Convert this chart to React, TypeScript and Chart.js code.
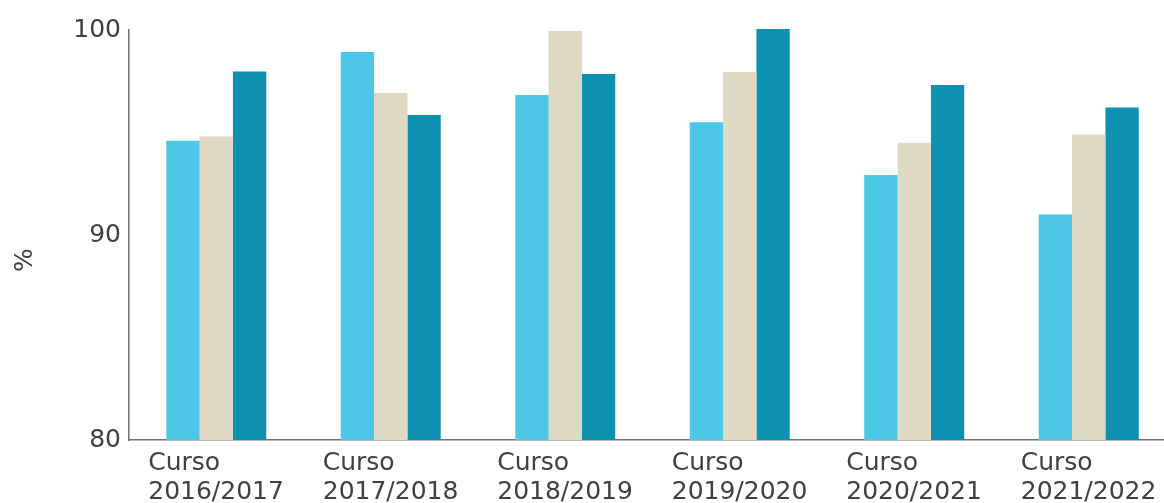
import React, { useEffect, useRef } from "react";
import { Chart, registerables } from "chart.js";

Chart.register(...registerables);

const categories: string[][] = [
  ["Curso", "2016/2017"],
  ["Curso", "2017/2018"],
  ["Curso", "2018/2019"],
  ["Curso", "2019/2020"],
  ["Curso", "2020/2021"],
  ["Curso", "2021/2022"],
];
const seriesA: number[] = [94.6, 98.93, 96.83, 95.5, 92.93, 91.0];
const seriesB: number[] = [94.8, 96.93, 99.95, 97.95, 94.5, 94.9];
const seriesC: number[] = [97.98, 95.85, 97.85, 100.05, 97.32, 96.22];
const yTicks: number[] = [80, 90, 100];
const yTitle = "%";

const FONT = "'DejaVu Sans', sans-serif";
const TEXT = "#404040";
const AXIS = "#707070";

const yTitlePlugin = {
  id: "yTitleText",
  afterDraw(chart: any) {
    const { ctx } = chart;
    ctx.save();
    ctx.translate(25, 260);
    ctx.rotate(-Math.PI / 2);
    ctx.font = `25px ${FONT}`;
    ctx.fillStyle = TEXT;
    ctx.textAlign = "center";
    ctx.textBaseline = "middle";
    ctx.fillText(yTitle, 0, 0);
    ctx.restore();
  },
};

const barClip = { left: 0, top: 6, right: 0, bottom: 0 };

export default function App() {
  const ref = useRef<HTMLCanvasElement | null>(null);
  useEffect(() => {
    document.body.style.margin = "0";
    document.body.style.overflow = "hidden";
    const canvas = ref.current!;
    const chart = new Chart(canvas, {
      type: "bar",
      data: {
        labels: categories,
        datasets: [
          { data: seriesA, backgroundColor: "#4CC8E6", clip: barClip as any },
          { data: seriesB, backgroundColor: "#DED9C3", clip: barClip as any },
          { data: seriesC, backgroundColor: "#0E91B1", clip: barClip as any },
        ],
      },
      plugins: [yTitlePlugin],
      options: {
        responsive: false,
        animation: false,
        layout: { padding: { top: 30, left: 0, right: 0, bottom: 0 } },
        plugins: { legend: { display: false }, tooltip: { enabled: false } },
        datasets: { bar: { categoryPercentage: 0.573, barPercentage: 1, borderWidth: 0 } },
        scales: {
          x: {
            grid: { display: false, drawTicks: false },
            border: { display: true, color: AXIS, width: 1.5 },
            ticks: {
              align: "start",
              labelOffset: -68,
              padding: 9,
              maxRotation: 0,
              autoSkip: false,
              color: TEXT,
              font: { family: FONT, size: 25, lineHeight: "29px" as any },
            },
            afterFit(scale: any) {
              scale.height = 63;
              scale.paddingLeft = 0;
              scale.paddingRight = 0;
            },
          },
          y: {
            min: 80,
            max: 100,
            grid: { display: false, drawTicks: false },
            border: { display: true, color: AXIS, width: 1.5 },
            afterBuildTicks(scale: any) {
              scale.ticks = yTicks.map((v) => ({ value: v }));
            },
            ticks: {
              padding: 8,
              color: TEXT,
              font: { family: FONT, size: 25, lineHeight: 1.2 },
            },
            afterFit(scale: any) {
              scale.width = 129;
            },
          },
        },
      },
    });
    return () => chart.destroy();
  }, []);
  return (
    <div style={{ width: 1164, height: 503, overflow: "hidden", position: "relative" }}>
      <canvas ref={ref} width={1176} height={503} style={{ display: "block" }} />
    </div>
  );
}
